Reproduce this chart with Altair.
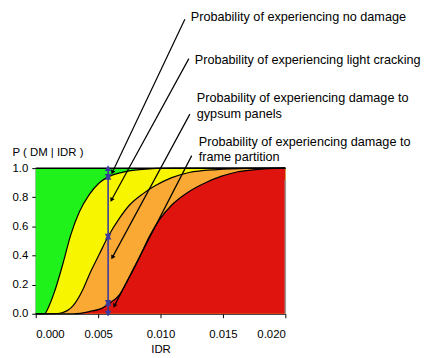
import altair as alt
import pandas as pd

# Fragility curves: P(DM >= state | IDR)
c1_x = [0.0, 0.0007, 0.0011, 0.0015, 0.0022, 0.0028, 0.0035, 0.0043, 0.0051, 0.0058, 0.007, 0.0083, 0.011, 0.02]
c1_y = [0.0, 0.0, 0.06, 0.15, 0.35, 0.54, 0.70, 0.82, 0.90, 0.94, 0.973, 0.99, 1.0, 1.0]

c2_x = [0.0, 0.0015, 0.0021, 0.003, 0.0038, 0.0043, 0.0051, 0.0058, 0.0067, 0.0075, 0.0086, 0.0096, 0.0109,
        0.0123, 0.0145, 0.017, 0.02]
c2_y = [0.0, 0.0, 0.007, 0.056, 0.17, 0.27, 0.41, 0.53, 0.655, 0.745, 0.825, 0.88, 0.935,
        0.97, 0.99, 0.998, 1.0]

c3_x = [0.0, 0.003, 0.0043, 0.0054, 0.0058, 0.0067, 0.0075, 0.0083, 0.0091, 0.0099, 0.0109, 0.0123,
        0.0136, 0.0149, 0.0162, 0.0176, 0.02]
c3_y = [0.0, 0.0, 0.015, 0.042, 0.065, 0.13, 0.25, 0.385, 0.53, 0.645, 0.747, 0.84,
        0.90, 0.945, 0.975, 0.99, 1.0]

full_x = [0.0, 0.02]
full_y = [1.0, 1.0]

# Blue double arrows at IDR = 0.0058
arrow_idr = 0.0058
arrow_levels = [0.0, 0.075, 0.53, 0.94, 1.0]

# Annotations
ann_labels = [
    ["Probability of experiencing no damage"],
    ["Probability of experiencing light cracking"],
    ["Probability of experiencing damage to", "gypsum panels"],
    ["Probability of experiencing damage to", "frame partition"],
]
ann_text_x = [0.01242, 0.01274, 0.0129, 0.01306]
ann_text_y = [[2.037], [1.745], [1.480, 1.371], [1.181, 1.073]]
ann_line_x1 = [0.01195, 0.01227, 0.01235, 0.0125]
ann_line_y1 = [2.023, 1.752, 1.371, 1.086]
ann_line_x2 = [0.00614, 0.00607, 0.00614, 0.0063]
ann_line_y2 = [0.971, 0.781, 0.387, 0.054]
ann_head_angle = [25, 28.6, 28.3, 27]

x_ticks = [0.0, 0.005, 0.01, 0.015, 0.02]
y_ticks = [0.0, 0.2, 0.4, 0.6, 0.8, 1.0]

edge_x = [0.02]
edge_lo = [0.0]
edge_hi = [0.92]

GREEN = "#1ff21a"
YELLOW = "#f8f500"
ORANGE = "#faa935"
RED = "#e0140f"
BLUE = "#3b3b9e"
FONT = "Liberation Sans"

xs = alt.Scale(domain=[0, 0.02], nice=False, zero=False)
ys = alt.Scale(domain=[0, 1], nice=False)

xaxis = alt.Axis(values=x_ticks, format=".3f", title="IDR", grid=False,
                 domainColor="black", tickColor="black", tickSize=4,
                 labelFont=FONT, labelFontSize=11.5, labelColor="black", labelPadding=11,
                 titleFont=FONT, titleFontSize=11.5, titleFontWeight="normal", titleColor="black",
                 titleY=39, titleBaseline="alphabetic")
yaxis = alt.Axis(values=y_ticks, format=".1f", title="P ( DM | IDR )", grid=False,
                 domainColor="black", tickColor="black", tickSize=4,
                 labelFont=FONT, labelFontSize=11.5, labelColor="black", labelPadding=4,
                 titleFont=FONT, titleFontSize=11.5, titleFontWeight="normal", titleColor="black",
                 titleAngle=0, titleAlign="left", titleBaseline="middle", titleX=-24, titleY=-16)


def X(f):
    return alt.X(f, scale=xs, axis=xaxis)


def Y(f):
    return alt.Y(f, scale=ys, axis=yaxis)


def df(xv, yv):
    return pd.DataFrame({"x": xv, "y": yv})


green = alt.Chart(df(full_x, full_y)).mark_area(color=GREEN).encode(x=X("x:Q"), y=Y("y:Q"))


def area(xv, yv, col):
    return alt.Chart(df(xv, yv)).mark_area(color=col, interpolate="monotone").encode(
        x=X("x:Q"), y=Y("y:Q"))


def line(xv, yv):
    return alt.Chart(df(xv, yv)).mark_line(color="black", strokeWidth=1.2, interpolate="monotone").encode(
        x=X("x:Q"), y=Y("y:Q"))


top = alt.Chart(df(full_x, full_y)).mark_line(color="black", strokeWidth=1.5).encode(
    x=X("x:Q"), y=Y("y:Q"))

edge = alt.Chart(pd.DataFrame({"x": edge_x, "lo": edge_lo, "hi": edge_hi})).mark_rule(
    color="#9a9a9a", strokeWidth=1.5).encode(x=X("x:Q"), y=Y("lo:Q"), y2="hi:Q")

seg = pd.DataFrame({"x": [arrow_idr] * (len(arrow_levels) - 1),
                    "lo": arrow_levels[:-1], "hi": arrow_levels[1:]})
blue_rule = alt.Chart(seg).mark_rule(color=BLUE, strokeWidth=1.6).encode(
    x=X("x:Q"), y=Y("lo:Q"), y2="hi:Q")
heads_down = alt.Chart(seg).mark_point(shape="triangle-down", filled=True, color=BLUE, size=45, opacity=1).encode(
    x=X("x:Q"), y=Y("lo:Q"))
heads_up = alt.Chart(seg).mark_point(shape="triangle-up", filled=True, color=BLUE, size=45, opacity=1).encode(
    x=X("x:Q"), y=Y("hi:Q"))

ann = pd.DataFrame({"x1": ann_line_x1, "y1": ann_line_y1, "x2": ann_line_x2, "y2": ann_line_y2,
                    "ang": ann_head_angle})
ann_rule = alt.Chart(ann).mark_rule(color="black", strokeWidth=1.2).encode(
    x=X("x1:Q"), y=Y("y1:Q"), x2="x2:Q", y2="y2:Q")
ann_head = alt.Chart(ann).mark_point(shape="triangle-down", filled=True, color="black", size=24, opacity=1).encode(
    x=X("x2:Q"), y=Y("y2:Q"), angle=alt.Angle("ang:Q", scale=None))

rows = []
for lab, tx, tys in zip(ann_labels, ann_text_x, ann_text_y):
    for t, ty in zip(lab, tys):
        rows.append({"x": tx, "y": ty, "t": t})
texts = alt.Chart(pd.DataFrame(rows)).mark_text(align="left", baseline="middle", font=FONT,
                                               fontSize=12.8, color="black").encode(
    x=X("x:Q"), y=Y("y:Q"), text="t:N")

chart = alt.layer(
    green,
    area(c1_x, c1_y, YELLOW),
    area(c2_x, c2_y, ORANGE),
    area(c3_x, c3_y, RED),
    line(c1_x, c1_y),
    line(c2_x, c2_y),
    line(c3_x, c3_y),
    top, edge,
    blue_rule, heads_down, heads_up,
    ann_rule, ann_head,
    texts,
).properties(
    width=252, height=147,
    autosize=alt.AutoSizeParams(type="none"),
    padding={"left": 28, "top": 160, "right": 140, "bottom": 42},
    background="white",
).configure_view(stroke=None)

chart.save("out.html", embed_options={"renderer": "svg", "actions": False})
